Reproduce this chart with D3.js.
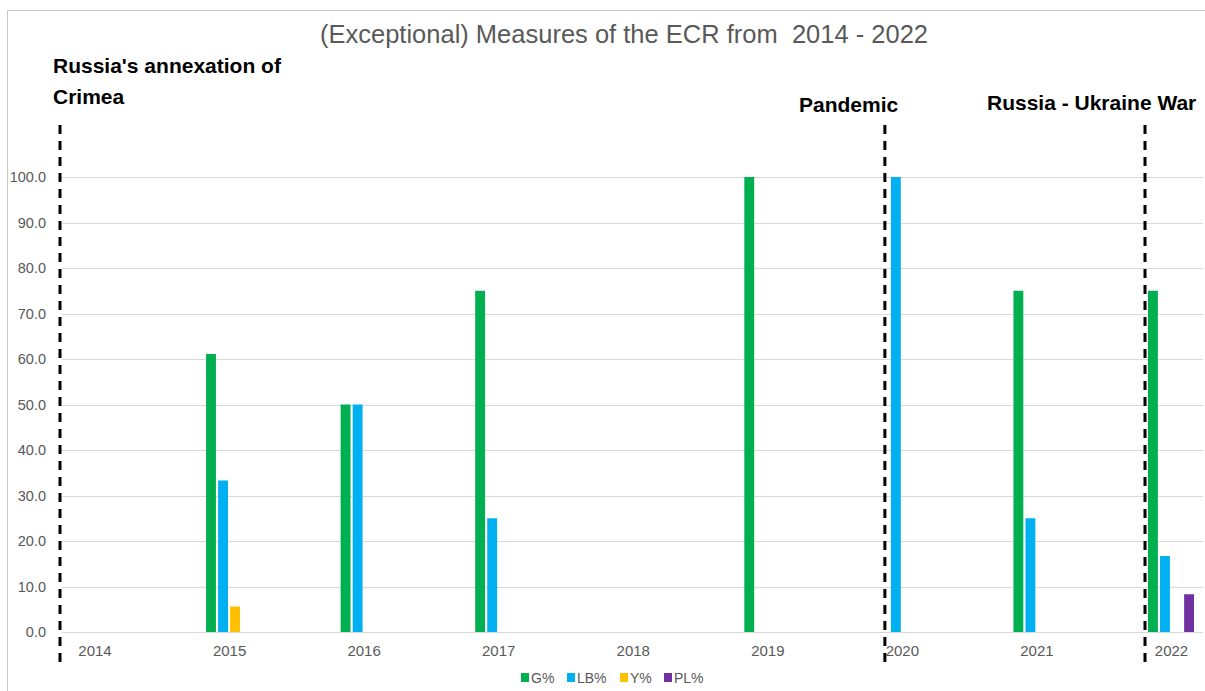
<!DOCTYPE html>
<html>
<head>
<meta charset="utf-8">
<script src="https://cdn.jsdelivr.net/npm/d3@7"></script>
<style>
  html, body { margin: 0; padding: 0; background: #fff; }
  svg { display: block; font-family: "Liberation Sans", Arial, sans-serif; }
</style>
</head>
<body>
<svg id="chart" width="1205" height="691"></svg>
<script>
// Categories and series
const years = ["2014", "2015", "2016", "2017", "2018", "2019", "2020", "2021", "2022"];
const seriesNames = ["G%", "LB%", "Y%", "PL%"];
const seriesColors = ["#00B050", "#00B0F0", "#FFC000", "#7030A0"];
const gValues  = [0, 61.1, 50, 75, 0, 100, 0, 75, 75];
const lbValues = [0, 33.3, 50, 25, 0, 0, 100, 25, 16.7];
const yValues  = [0, 5.6, 0, 0, 0, 0, 0, 0, 0];
const plValues = [0, 0, 0, 0, 0, 0, 0, 0, 8.3];
const yTickValues = [0, 10, 20, 30, 40, 50, 60, 70, 80, 90, 100];
const titleText = "(Exceptional) Measures of the ECR from  2014 - 2022";

// Event markers: label lines and the year they sit in front of
const eventLabels = [["Russia's annexation of", "Crimea"], ["Pandemic"], ["Russia - Ukraine War"]];
const eventYears = ["2014", "2020", "2022"];

const seriesValues = [gValues, lbValues, yValues, plValues];

const svg = d3.select("#chart");
const textGrey = "#595959";

// Scales
const x = d3.scalePoint().domain(years).range([94.5, 1171]);
const xSub = d3.scaleBand().domain(seriesNames).range([-23, 23]).paddingInner(0.18);
const y = d3.scaleLinear().domain([0, 100]).range([632, 177]);

// Chart frame (left and top edges)
svg.append("path")
  .attr("d", "M7.5,700 V10.5 H1210")
  .attr("fill", "none")
  .attr("stroke", "#C8C8C8")
  .attr("stroke-width", 1);

// Title
svg.append("text")
  .attr("x", 624)
  .attr("y", 43)
  .attr("text-anchor", "middle")
  .attr("font-size", 25.5)
  .attr("fill", textGrey)
  .style("white-space", "pre")
  .text(titleText);

// Gridlines
const gridX0 = 62, gridX1 = 1203;
svg.append("g")
  .selectAll("line")
  .data(yTickValues)
  .join("line")
  .attr("x1", gridX0)
  .attr("x2", gridX1)
  .attr("y1", d => Math.round(y(d)) + 0.5)
  .attr("y2", d => Math.round(y(d)) + 0.5)
  .attr("stroke", "#D9D9D9")
  .attr("stroke-width", 1);

// Y axis labels
const yAxis = d3.axisLeft(y).tickValues(yTickValues).tickFormat(d3.format(".1f")).tickSize(0).tickPadding(0);
const yAxisG = svg.append("g").attr("transform", "translate(46,0)").call(yAxis);
yAxisG.select(".domain").remove();
yAxisG.selectAll("text")
  .attr("font-size", 14.5)
  .attr("font-family", "Liberation Sans, Arial, sans-serif")
  .attr("fill", textGrey);

// X axis labels
const xAxis = d3.axisBottom(x).tickSize(0).tickPadding(0);
const xAxisG = svg.append("g").attr("transform", "translate(0,645)").call(xAxis);
xAxisG.select(".domain").remove();
xAxisG.selectAll("text")
  .attr("font-size", 15)
  .attr("font-family", "Liberation Sans, Arial, sans-serif")
  .attr("fill", textGrey);

// Bars
const barData = [];
seriesNames.forEach((s, si) => {
  years.forEach((yr, yi) => {
    const v = seriesValues[si][yi];
    if (v > 0) barData.push({ series: s, year: yr, value: v, color: seriesColors[si] });
  });
});
svg.append("g")
  .selectAll("rect")
  .data(barData)
  .join("rect")
  .attr("x", d => x(d.year) + xSub(d.series))
  .attr("width", xSub.bandwidth())
  .attr("y", d => y(d.value))
  .attr("height", d => y(0) - y(d.value))
  .attr("fill", d => d.color);

// Event dividers: dashed vertical lines with bold captions
const eventOffsets = [-34.5, -17, -26];
const captionX = [53, 799, 987];
const captionBaselines = [[73, 104], [112], [110]];
const eventG = svg.append("g");
eventYears.forEach((yr, i) => {
  const lx = x(yr) + eventOffsets[i];
  eventG.append("line")
    .attr("x1", lx).attr("x2", lx)
    .attr("y1", 125).attr("y2", 662)
    .attr("stroke", "#000")
    .attr("stroke-width", 3)
    .attr("stroke-dasharray", "9,7");
  eventLabels[i].forEach((line, li) => {
    eventG.append("text")
      .attr("x", captionX[i])
      .attr("y", captionBaselines[i][li])
      .attr("font-size", 21)
      .attr("font-weight", "bold")
      .attr("fill", "#000")
      .text(line);
  });
});

// Legend
const legendX = [521, 567, 620, 664];
const legendG = svg.append("g");
seriesNames.forEach((s, i) => {
  legendG.append("rect")
    .attr("x", legendX[i]).attr("y", 673)
    .attr("width", 8).attr("height", 9)
    .attr("fill", seriesColors[i]);
  legendG.append("text")
    .attr("x", legendX[i] + 10).attr("y", 683)
    .attr("font-size", 14)
    .attr("fill", textGrey)
    .text(s);
});
</script>
</body>
</html>
